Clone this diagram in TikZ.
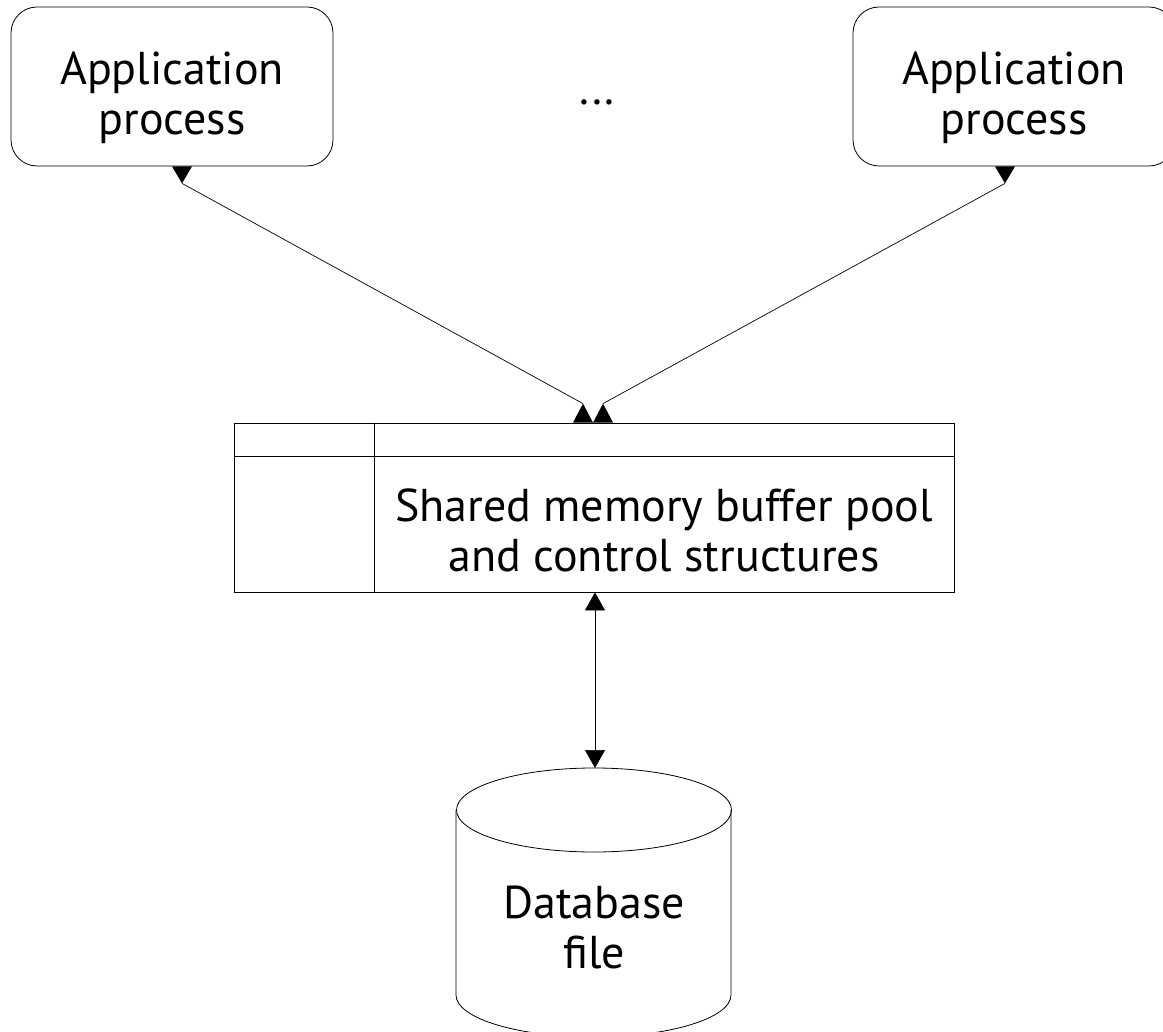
\documentclass[tikz,border=0pt]{standalone}
\usepackage{fontspec}
\setmainfont{PT Sans}
\usetikzlibrary{arrows.meta,positioning}
\tikzset{
  lbl/.style={font=\fontsize{46}{50}\selectfont, align=center, inner sep=0pt},
  appbox/.style={draw, line width=0.8pt, rounded corners=26pt, minimum width=322pt, minimum height=159pt, inner sep=0pt},
  conn/.style={line width=0.7pt, {Triangle[length=18pt,width=20pt]}-{Triangle[length=18pt,width=20pt]}},
  slant/.style={line width=0.7pt},
  tip/.style={fill=black},
  thin/.style={line width=0.8pt}
}
\begin{document}
\begin{tikzpicture}[x=1pt,y=1pt]
\useasboundingbox (0,0) rectangle (1163,-1032);
\clip (0,0) rectangle (1163,-1032);
% application boxes
\node[appbox] (app1) at (172,-86.5) {};
\node[lbl] (app1t) at (172,-98) {Application\\process};
\node[appbox] (app2) at (1014,-86.5) {};
\node[lbl] (app2t) at (1014,-98) {Application\\process};
\node[lbl] (dots) at (597,-102) {...};
% memory box
\node[draw, thin, minimum width=720pt, minimum height=169pt, inner sep=0pt] (mem) at (594,-507.5) {};
\draw[thin] (234,-456) -- (954,-456);
\draw[thin] (374,-423) -- (374,-592);
\node[lbl] (memt) at (664,-530) {Shared memory buffer pool\\and control structures};
% cylinder
\coordinate (dbtop) at (594,-768);
\draw[thin] (456,-810) -- (456,-995) arc[start angle=180, end angle=360, x radius=137.5, y radius=42] -- (731,-810);
\draw[thin] (594,-810) ellipse [x radius=137.5, y radius=42];
\node[lbl] (db) at (594,-927) {Database\\file};
% slanted connectors with upright triangle ends
\draw[slant] ([xshift=-11pt,yshift=19pt]mem.north) -- ([xshift=10pt,yshift=-17pt]app1.south);
\draw[slant] ([xshift=9pt,yshift=19pt]mem.north) -- ([xshift=-9pt,yshift=-17pt]app2.south);
\fill[tip] ([xshift=-21pt]mem.north) -- ([xshift=-1pt]mem.north) -- ([xshift=-11pt,yshift=19pt]mem.north) -- cycle;
\fill[tip] ([xshift=-1pt]mem.north) -- ([xshift=19pt]mem.north) -- ([xshift=9pt,yshift=19pt]mem.north) -- cycle;
\fill[tip] (app1.south) -- ([xshift=20pt]app1.south) -- ([xshift=10pt,yshift=-17pt]app1.south) -- cycle;
\fill[tip] ([xshift=-19pt]app2.south) -- ([xshift=1pt]app2.south) -- ([xshift=-9pt,yshift=-17pt]app2.south) -- cycle;
% vertical connector
\draw[conn] ([xshift=1pt]mem.south) -- ([xshift=1pt]dbtop);
\end{tikzpicture}
\end{document}
